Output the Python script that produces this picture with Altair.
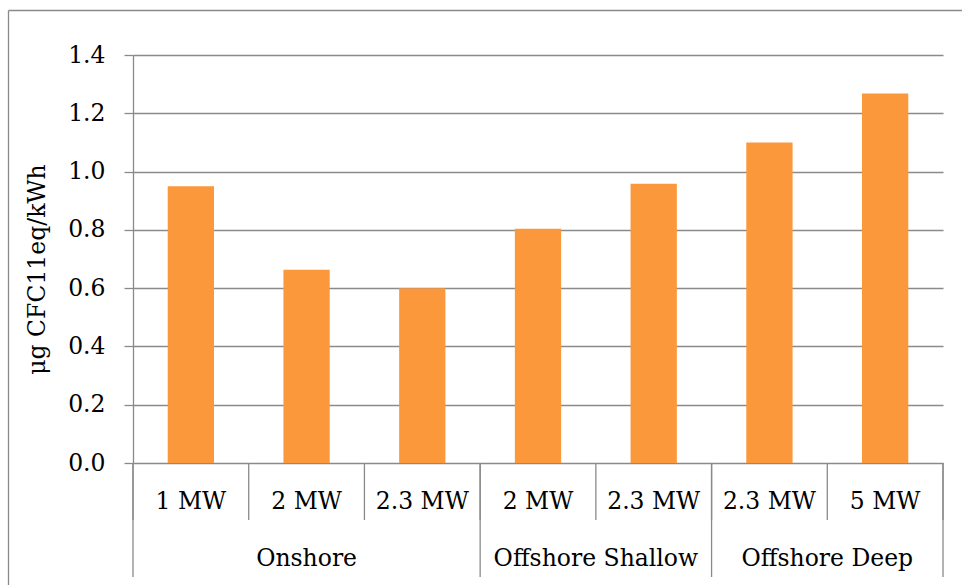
import altair as alt
import pandas as pd

# Turbine sizes, site groups and ozone depletion per kWh
categories = ["1 MW", "2 MW", "2.3 MW", "2 MW", "2.3 MW", "2.3 MW", "5 MW"]
groups = ["Onshore", "Onshore", "Onshore",
          "Offshore Shallow", "Offshore Shallow",
          "Offshore Deep", "Offshore Deep"]
values = [0.95, 0.663, 0.60, 0.804, 0.958, 1.10, 1.268]
y_ticks = [0.0, 0.2, 0.4, 0.6, 0.8, 1.0, 1.2, 1.4]

FONT = "DejaVu Serif"
FS = 23.5
GRAY = "#8a8a8a"
BAR = "#FB983C"
W, H = 810, 408
ROW = 57  # height of one category-label row

n = len(categories)
bars = pd.DataFrame({"slot": list(range(n)), "cat": categories,
                     "group": groups, "value": values})

spans = bars.groupby("group", sort=False)["slot"].agg(["min", "max"]).reset_index()
spans["mid"] = (spans["min"] + spans["max"] + 1) / 2

edge_rows = []
for b in range(n + 1):
    is_group_edge = b == 0 or b == n or groups[b - 1] != groups[b]
    edge_rows.append({"pos": b, "group_edge": is_group_edge})
edges = pd.DataFrame(edge_rows)

xscale = alt.Scale(domain=[0, n], nice=False, zero=False)

bar_layer = alt.Chart(bars).transform_calculate(
    x0="datum.slot + 0.3", x1="datum.slot + 0.7"
).mark_rect(color=BAR).encode(
    x=alt.X("x0:Q", scale=xscale, axis=None),
    x2="x1:Q",
    y=alt.Y("value:Q",
            scale=alt.Scale(domain=[0, 1.4], nice=False),
            axis=alt.Axis(values=y_ticks, format=".1f",
                          title="μg CFC11eq/kWh",
                          grid=True, gridColor=GRAY, gridWidth=1.3,
                          domainColor=GRAY, domainWidth=1.3,
                          tickColor=GRAY, tickWidth=1.3, tickSize=9,
                          labelPadding=19, labelFont=FONT, labelFontSize=FS,
                          labelColor="#000000",
                          titleFont=FONT, titleFontSize=FS,
                          titleFontWeight="normal", titleColor="#000000",
                          titleAngle=270, titleAlign="center",
                          titleBaseline="middle",
                          titleX=-96, titleY=214)),
    y2=alt.datum(0),
)

cat_labels = alt.Chart(bars).transform_calculate(
    mid="datum.slot + 0.5"
).mark_text(font=FONT, fontSize=FS, color="#000000", baseline="middle").encode(
    x=alt.X("mid:Q", scale=xscale),
    y=alt.value(H + 39),
    text="cat:N",
)

group_labels = alt.Chart(spans).mark_text(
    font=FONT, fontSize=FS, color="#000000", baseline="middle"
).encode(
    x=alt.X("mid:Q", scale=xscale),
    y=alt.value(H + 96),
    text="group:N",
)

short_sep = alt.Chart(edges).mark_rule(color=GRAY, strokeWidth=1.3).encode(
    x=alt.X("pos:Q", scale=xscale),
    y=alt.value(H),
    y2=alt.value(H + ROW),
)

long_sep = alt.Chart(edges).transform_filter(
    "datum.group_edge"
).mark_rule(color=GRAY, strokeWidth=1.3).encode(
    x=alt.X("pos:Q", scale=xscale),
    y=alt.value(H),
    y2=alt.value(H + 2 * ROW),
)

# outer chart frame (left and top edges)
frame_df = pd.DataFrame({"k": [0]})
frame_left = alt.Chart(frame_df).mark_rule(color=GRAY, strokeWidth=1.3).encode(
    x=alt.value(-124.5), y=alt.value(-44.5), y2=alt.value(H + 200),
)
frame_top = alt.Chart(frame_df).mark_rule(color=GRAY, strokeWidth=1.3).encode(
    x=alt.value(-124.5), x2=alt.value(W + 100), y=alt.value(-44.5),
)

chart = alt.layer(
    bar_layer, short_sep, long_sep, cat_labels, group_labels,
    frame_left, frame_top,
).properties(
    width=W, height=H,
    autosize=alt.AutoSizeParams(type="none"),
    padding={"left": 133, "top": 55, "right": 19, "bottom": 122},
    background="white",
).configure_view(stroke=None)

chart.save("out.html", embed_options={"renderer": "svg", "actions": False})
